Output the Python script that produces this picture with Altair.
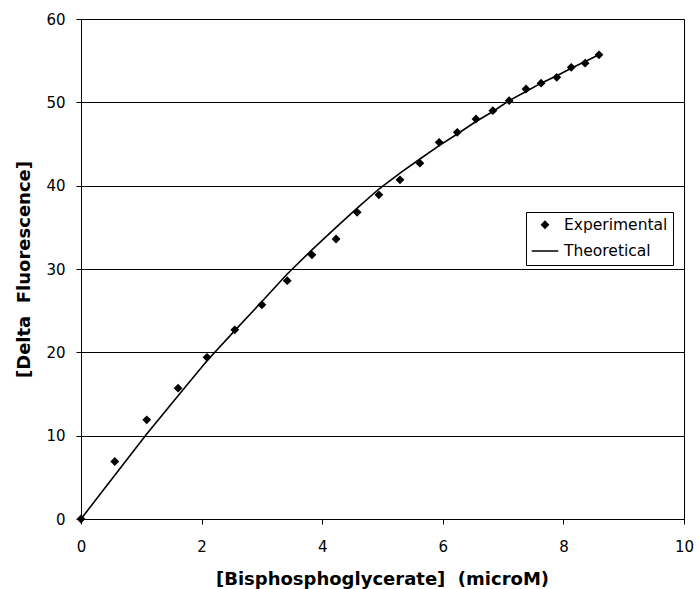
import altair as alt
import pandas as pd

# Experimental data points
exp_x = [0, 0.56, 1.09, 1.61, 2.09, 2.55, 3.0, 3.42, 3.83, 4.23, 4.58, 4.94, 5.29,
         5.62, 5.94, 6.24, 6.55, 6.83, 7.1, 7.38, 7.63, 7.89, 8.13, 8.36, 8.59]
exp_y = [0, 6.9, 11.9, 15.7, 19.4, 22.7, 25.7, 28.6, 31.7, 33.6, 36.8, 38.9, 40.7,
         42.7, 45.2, 46.4, 48.0, 49.0, 50.2, 51.6, 52.3, 53.0, 54.2, 54.7, 55.7]

# Theoretical curve
theo_x = exp_x
theo_y = [0, 5.25, 10.2, 14.8, 19.0, 22.6, 26.1, 29.4, 32.3, 35.0, 37.3, 39.6, 41.5,
          43.2, 44.8, 46.2, 47.7, 48.9, 50.2, 51.3, 52.3, 53.2, 54.1, 54.9, 55.7]

series_names = ["Experimental", "Theoretical"]
x_ticks = [0, 2, 4, 6, 8, 10]
y_ticks = [0, 10, 20, 30, 40, 50, 60]

exp_df = pd.DataFrame({"x": exp_x, "y": exp_y, "series": series_names[0]})
theo_df = pd.DataFrame({"x": theo_x, "y": theo_y, "series": series_names[1]})

x_enc = alt.X("x:Q", scale=alt.Scale(domain=[0, 10], nice=False),
              axis=alt.Axis(values=x_ticks, grid=False, tickSize=5, labelPadding=15,
                            labelFlush=False,
                            format="d", title="[Bisphosphoglycerate]\u00a0 (microM)",
                            titleX=301, titleY=65, titleBaseline="alphabetic",
                            titleAlign="center"))
y_enc = alt.Y("y:Q", scale=alt.Scale(domain=[0, 60], nice=False),
              axis=alt.Axis(values=y_ticks, grid=True, tickSize=5, labelPadding=11,
                            labelFlush=False,
                            format="d", title="[Delta\u00a0 Fluorescence]",
                            titleX=-52, titleY=250, titleAngle=-90,
                            titleBaseline="alphabetic", titleAlign="center"))

line = alt.Chart(theo_df).mark_line(color="black", strokeWidth=1.6).encode(
    x=x_enc, y=y_enc
)

points = alt.Chart(exp_df).mark_point(filled=True, fill="black", stroke="black",
                                      strokeWidth=1.5, opacity=1).encode(
    x=x_enc,
    y=y_enc,
    shape=alt.Shape("series:O",
                    scale=alt.Scale(domain=series_names, range=["diamond", "stroke"]),
                    legend=alt.Legend(title=None, orient="none", legendX=445, legendY=193,
                                      strokeColor="black", fillColor="white",
                                      padding=5, labelFontSize=15.5, labelOffset=5,
                                      rowPadding=3, symbolStrokeColor="black",
                                      symbolFillColor="black", symbolStrokeWidth=1.5,
                                      labelColor="black", cornerRadius=0)),
    size=alt.Size("series:O",
                  scale=alt.Scale(domain=series_names, range=[45, 700]),
                  legend=alt.Legend(title=None, orient="none", legendX=445, legendY=193)),
)

chart = (line + points).properties(
    width=603, height=500,
    autosize=alt.AutoSizeParams(type="none"),
    padding={"left": 81, "top": 19, "right": 15, "bottom": 70},
).configure(
    font="DejaVu Sans",
).configure_view(
    stroke="black", strokeWidth=1
).configure_axis(
    domainColor="black", tickColor="black", gridColor="black", gridWidth=1,
    labelColor="black", labelFontSize=15, labelFont="DejaVu Sans",
    titleColor="black", titleFontSize=18, titleFont="DejaVu Sans", titleFontWeight="bold",
    domainWidth=1, tickWidth=1,
)

chart.save("out.html", embed_options={"renderer": "svg", "actions": False})
